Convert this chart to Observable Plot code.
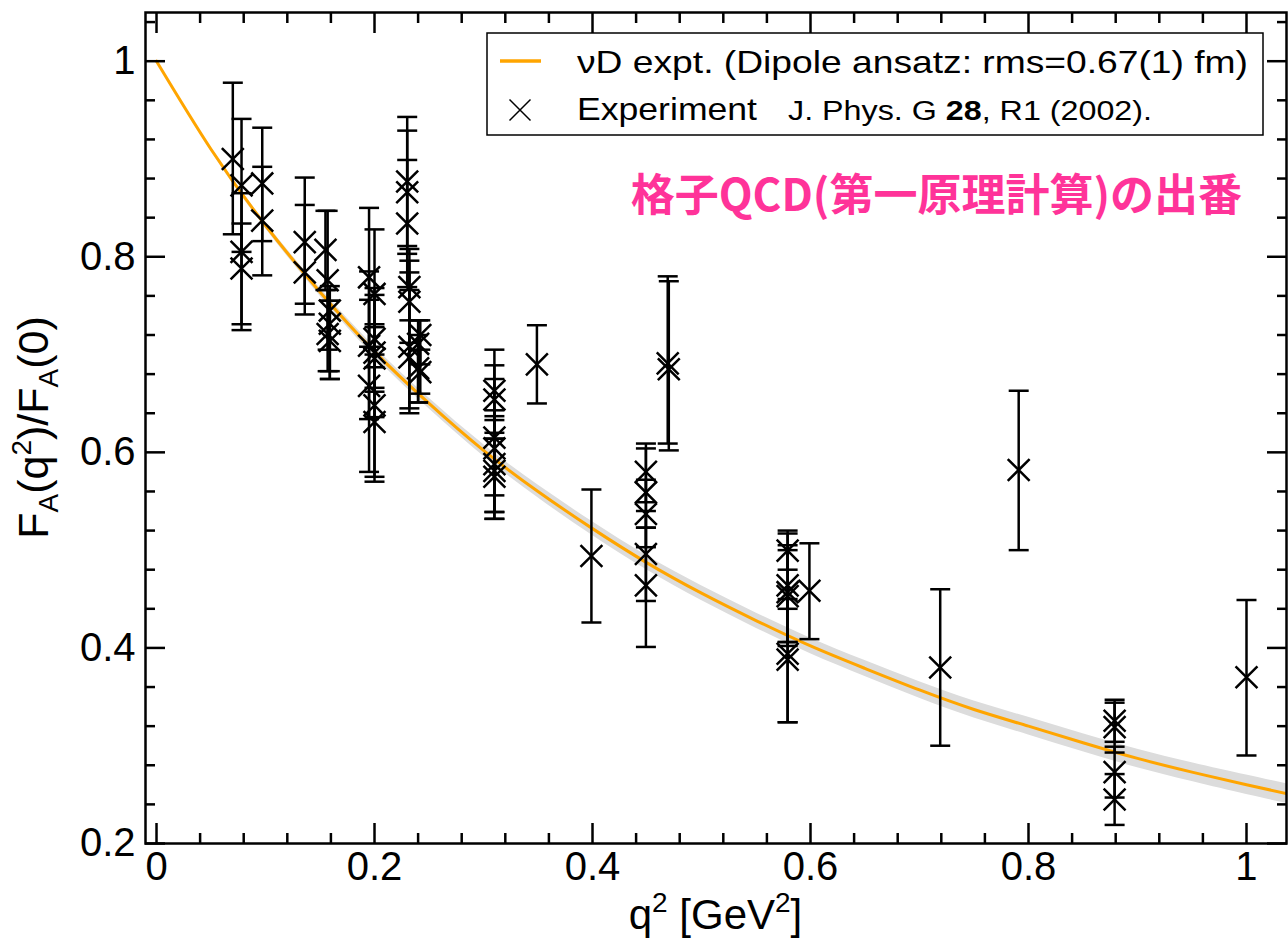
<!DOCTYPE html>
<html><head><meta charset="utf-8">
<script src="https://cdn.jsdelivr.net/npm/d3@7"></script>
<script src="https://cdn.jsdelivr.net/npm/@observablehq/plot@0.6"></script>
<style>
body{margin:0;background:#fff;}
#chart{width:1288px;height:940px;}
</style>
</head><body><div id="chart"></div>
<script>
// Experimental points: q^2 [GeV^2], F_A(q^2)/F_A(0), lower and upper error bar ends
const q2 = [0.070,0.078,0.078,0.078,0.097,0.097,0.136,0.136,0.155,0.157,0.159,0.159,0.157,0.159,
  0.195,0.200,0.200,0.195,0.200,0.200,0.195,0.200,0.200,
  0.230,0.230,0.230,0.232,0.232,0.232,0.232,0.240,0.242,0.240,0.242,
  0.310,0.310,0.310,0.310,0.310,0.310,0.310,0.349,0.399,
  0.449,0.449,0.449,0.449,0.449,0.469,0.470,
  0.579,0.579,0.579,0.579,0.579,0.579,0.599,0.719,0.791,
  0.879,0.879,0.879,0.879,1.000];
const ff = [0.900,0.873,0.805,0.788,0.875,0.837,0.815,0.784,0.807,0.776,0.745,0.7315,0.721,0.714,
  0.779,0.762,0.716,0.709,0.702,0.696,0.668,0.648,0.631,
  0.877,0.866,0.834,0.769,0.754,0.708,0.697,0.711,0.720,0.686,0.682,
  0.663,0.654,0.615,0.604,0.588,0.581,0.575,0.690,0.494,
  0.580,0.559,0.537,0.496,0.464,0.691,0.685,
  0.4995,0.464,0.457,0.453,0.394,0.388,0.4585,0.380,0.582,
  0.3255,0.319,0.273,0.245,0.370];
const ffLo = [0.823,0.805,0.731,0.725,0.816,0.781,0.752,0.741,0.766,0.705,0.683,0.675,0.683,0.675,
  0.708,0.700,0.666,0.634,0.636,0.662,0.580,0.570,0.575,
  0.811,0.803,0.769,0.735,0.712,0.640,0.645,0.651,0.690,0.651,0.660,
  0.614,0.620,0.556,0.539,0.539,0.532,0.532,0.650,0.426,
  0.549,0.523,0.503,0.448,0.401,0.609,0.602,
  0.480,0.406,0.402,0.406,0.324,0.324,0.409,0.300,0.500,
  0.304,0.293,0.247,0.219,0.290];
const ffHi = [0.978,0.941,0.865,0.834,0.932,0.892,0.881,0.853,0.847,0.847,0.770,0.755,0.766,0.755,
  0.850,0.828,0.761,0.785,0.768,0.731,0.756,0.728,0.687,
  0.943,0.929,0.899,0.808,0.796,0.784,0.766,0.735,0.735,0.720,0.705,
  0.705,0.689,0.675,0.643,0.637,0.633,0.614,0.730,0.562,
  0.609,0.604,0.572,0.540,0.523,0.780,0.775,
  0.520,0.517,0.505,0.500,0.440,0.450,0.507,0.460,0.663,
  0.347,0.344,0.299,0.271,0.449];

// nuD experiment dipole curve and half-width of its grey band
const curveQ2 = [0,0.05,0.1,0.15,0.2,0.25,0.3,0.35,0.4,0.45,0.5,0.55,0.6,0.65,0.7,0.75,0.8,0.85,0.9,0.95,1.0,1.037];
const curveFF = [1.000,0.910,0.832,0.764,0.703,0.650,0.602,0.560,0.522,0.487,0.456,0.428,0.402,0.379,0.357,0.337,0.320,0.303,0.287,0.273,0.260,0.251];
const bandHalf = [0,0.002,0.003,0.004,0.005,0.0055,0.006,0.0065,0.007,0.0072,0.0075,0.0078,0.008,0.0082,0.0085,0.0087,0.009,0.0092,0.0095,0.0097,0.01,0.01];

// Axes
const xDomain = [-0.0101, 1.0367];
const yDomain = [0.2, 1.0498];
const xMajorTicks = [0,0.2,0.4,0.6,0.8,1];
const xMinorTicks = [0.04,0.08,0.12,0.16,0.24,0.28,0.32,0.36,0.44,0.48,0.52,0.56,0.64,0.68,0.72,0.76,0.84,0.88,0.92,0.96];
const yMajorTicks = [0.2,0.4,0.6,0.8,1];
const yMinorTicks = [0.24,0.28,0.32,0.36,0.44,0.48,0.52,0.56,0.64,0.68,0.72,0.76,0.84,0.88,0.92,0.96,1.04];

const annotationText = "格子QCD(第一原理計算)の出番";
const annotationPos = [0.435, 0.861];

const pts = q2.map((q, i) => ({q, f: ff[i], lo: ffLo[i], hi: ffHi[i]}));
const curve = curveQ2.map((q, i) => ({q, f: curveFF[i], lo: curveFF[i] - bandHalf[i], hi: curveFF[i] + bandHalf[i]}));

const capSymbol = {draw(ctx) { ctx.moveTo(-10, 0); ctx.lineTo(10, 0); }};
const FONT = "'Liberation Sans', Arial, Helvetica, sans-serif";
const blank = () => "";
const SW = 2.5;

const chart = Plot.plot({
  width: 1288,
  height: 940,
  marginLeft: 145,
  marginRight: 2,
  marginTop: 12,
  marginBottom: 97,
  style: {fontFamily: FONT, background: "#fff", color: "#000"},
  x: {domain: xDomain},
  y: {domain: yDomain},
  marks: [
    Plot.areaY(curve, {x: "q", y1: "lo", y2: "hi", fill: "#dcdcdc", clip: true, curve: "natural"}),
    Plot.line(curve, {x: "q", y: "f", stroke: "#ffa500", strokeWidth: 3, clip: true, curve: "natural"}),
    Plot.ruleX(pts, {x: "q", y1: "lo", y2: "hi", stroke: "#000", strokeWidth: SW}),
    Plot.dot(pts, {x: "q", y: "lo", symbol: capSymbol, r: 5, stroke: "#000", strokeWidth: SW}),
    Plot.dot(pts, {x: "q", y: "hi", symbol: capSymbol, r: 5, stroke: "#000", strokeWidth: SW}),
    Plot.dot(pts, {x: "q", y: "f", symbol: "times", r: 10, stroke: "#000", strokeWidth: SW}),
    // inward ticks on all four sides
    Plot.axisX(xMajorTicks, {anchor: "bottom", tickSize: 20, dy: -20, tickFormat: blank, strokeWidth: SW, label: null}),
    Plot.axisX(xMinorTicks, {anchor: "bottom", tickSize: 10, dy: -10, tickFormat: blank, strokeWidth: SW, label: null}),
    Plot.axisX(xMajorTicks, {anchor: "top", tickSize: 20, dy: 20, tickFormat: blank, strokeWidth: SW, label: null}),
    Plot.axisX(xMinorTicks, {anchor: "top", tickSize: 10, dy: 10, tickFormat: blank, strokeWidth: SW, label: null}),
    Plot.axisY(yMajorTicks, {anchor: "left", tickSize: 20, dx: 20, tickFormat: blank, strokeWidth: SW, label: null}),
    Plot.axisY(yMinorTicks, {anchor: "left", tickSize: 10, dx: 10, tickFormat: blank, strokeWidth: SW, label: null}),
    Plot.axisY(yMajorTicks, {anchor: "right", tickSize: 20, dx: -20, tickFormat: blank, strokeWidth: SW, label: null}),
    Plot.axisY(yMinorTicks, {anchor: "right", tickSize: 10, dx: -10, tickFormat: blank, strokeWidth: SW, label: null}),
    // tick labels
    Plot.axisX(xMajorTicks, {anchor: "bottom", tickSize: 0, tickPadding: 8, fontSize: 40, tickFormat: d => String(d), label: null}),
    Plot.axisY(yMajorTicks, {anchor: "left", tickSize: 0, tickPadding: 10, fontSize: 40, tickFormat: d => String(d), label: null}),
    Plot.frame({stroke: "#000", strokeWidth: SW}),
    Plot.text([annotationText], {x: () => annotationPos[0], y: () => annotationPos[1], text: d => d,
      textAnchor: "start", lineAnchor: "middle", fill: "#ff3399", fontSize: 44, fontWeight: "bold",
      fontFamily: "'Noto Sans CJK JP', sans-serif"})
  ]
});
document.getElementById("chart").append(chart);

// Axis titles and legend with sub/superscripts
const svg = d3.select(chart);
const xt = svg.append("text").attr("x", 715.5).attr("y", 929).attr("text-anchor", "middle")
  .attr("font-size", 42).attr("font-family", FONT).attr("fill", "#000");
xt.append("tspan").text("q");
xt.append("tspan").attr("dy", -17).attr("font-size", 28).text("2");
xt.append("tspan").attr("dy", 17).text(" [GeV");
xt.append("tspan").attr("dy", -17).attr("font-size", 28).text("2");
xt.append("tspan").attr("dy", 17).text("]");

const yt = svg.append("text").attr("transform", "translate(48,427.5) rotate(-90)").attr("text-anchor", "middle")
  .attr("font-size", 43).attr("font-family", FONT).attr("fill", "#000");
yt.append("tspan").text("F");
yt.append("tspan").attr("dy", 10).attr("font-size", 28).text("A");
yt.append("tspan").attr("dy", -10).text("(q");
yt.append("tspan").attr("dy", -17).attr("font-size", 28).text("2");
yt.append("tspan").attr("dy", 17).text(")/F");
yt.append("tspan").attr("dy", 10).attr("font-size", 28).text("A");
yt.append("tspan").attr("dy", -10).text("(0)");

const lg = svg.append("g").attr("font-family", FONT).attr("fill", "#000").attr("text-anchor", "start");
lg.append("rect").attr("x", 487).attr("y", 33).attr("width", 776).attr("height", 102)
  .attr("fill", "#fff").attr("stroke", "#000").attr("stroke-width", 1.5);
lg.append("line").attr("x1", 500).attr("x2", 541).attr("y1", 61).attr("y2", 61)
  .attr("stroke", "#ffa500").attr("stroke-width", 3.5);
lg.append("text").attr("text-anchor", "start").attr("x", 577).attr("y", 73).attr("font-size", 32)
  .attr("textLength", 671).attr("lengthAdjust", "spacingAndGlyphs")
  .text("\u03bdD expt. (Dipole ansatz: rms=0.67(1) fm)");
lg.append("path").attr("d", "M509.5,99.5L530.5,120.5M509.5,120.5L530.5,99.5")
  .attr("stroke", "#000").attr("stroke-width", 1.5).attr("fill", "none");
lg.append("text").attr("text-anchor", "start").attr("x", 577).attr("y", 120).attr("font-size", 32)
  .attr("textLength", 180).attr("lengthAdjust", "spacingAndGlyphs").text("Experiment");
const cit = lg.append("text").attr("text-anchor", "start").attr("x", 788).attr("y", 120).attr("font-size", 27)
  .attr("textLength", 364).attr("lengthAdjust", "spacingAndGlyphs");
cit.append("tspan").text("J. Phys. G ");
cit.append("tspan").attr("font-weight", "bold").text("28");
cit.append("tspan").text(", R1 (2002).");
</script>
</body></html>
